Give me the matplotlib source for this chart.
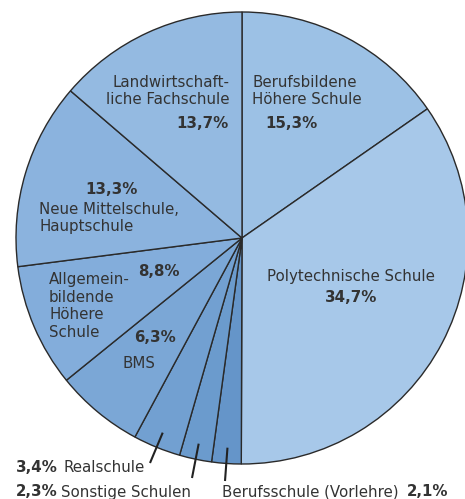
import matplotlib
matplotlib.use("Agg")
import matplotlib.pyplot as plt
import numpy as np

labels = ["Berufsbildene Höhere Schule", "Polytechnische Schule", "Berufsschule (Vorlehre)",
          "Sonstige Schulen", "Realschule", "BMS", "Allgemeinbildende Höhere Schule",
          "Neue Mittelschule, Hauptschule", "Landwirtschaftliche Fachschule"]
values = [15.3, 34.7, 2.1, 2.3, 3.4, 6.3, 8.8, 13.3, 13.7]
pct_text = ["15,3%", "34,7%", "2,1%", "2,3%", "3,4%", "6,3%", "8,8%", "13,3%", "13,7%"]
colors = ["#9cc1e5", "#a7c8e9", "#6595c9", "#6b9bcd", "#72a0d1", "#7ba7d6",
          "#83addb", "#8bb3de", "#94bae1"]

W, H = 465, 499
fig = plt.figure(figsize=(W / 100, H / 100), dpi=100)
ax = fig.add_axes([0, 0, 1, 1])

cx, cy_pix, R = 242, 238, 226
cy = H - cy_pix
ax.pie(values, colors=colors, startangle=90, counterclock=False,
       center=(cx, cy), radius=R, frame=True,
       wedgeprops=dict(edgecolor="#2a2a2a", linewidth=1.0))
ax.set_xlim(0, W)
ax.set_ylim(0, H)
ax.set_aspect("equal")
ax.axis("off")

fam = "DejaVu Sans"
fs = 10.8
tc = "#333333"


def T(x, y, s, ha="left", bold=False, va="center"):
    ax.text(x, H - y, s, ha=ha, va=va, fontsize=fs, color=tc, family=fam,
            fontweight="bold" if bold else "normal", linespacing=1.2)


# Landwirtschaftliche Fachschule
T(229, 91, "Landwirtschaft-\nliche Fachschule", ha="right")
T(229, 123, pct_text[8], ha="right", bold=True)
# Berufsbildende
T(252, 91, "Berufsbildene\nHöhere Schule")
T(265, 123, pct_text[0], bold=True)
# Neue Mittelschule
T(111, 189, pct_text[7], ha="center", bold=True)
T(39, 218, "Neue Mittelschule,\nHauptschule")
# Allgemeinbildende
T(49, 306, "Allgemein-\nbildende\nHöhere\nSchule")
T(159, 272, pct_text[6], ha="center", bold=True)
# BMS
T(155, 338, pct_text[5], ha="center", bold=True)
T(139, 363, "BMS", ha="center")
# Polytechnische
T(351, 277, "Polytechnische Schule", ha="center")
T(351, 298, pct_text[1], ha="center", bold=True)

# leader lines for small slices
cum = np.cumsum([0] + values[:-1])
total = sum(values)
ends = {2: (225, 481), 3: (192, 478), 4: (150, 463)}
for i, (ex, ey) in ends.items():
    mid = (cum[i] + values[i] / 2) / total * 2 * np.pi
    r = 0.93 * R
    px = cx + r * np.sin(mid)
    py = cy + r * np.cos(mid)
    ax.plot([px, ex], [py, H - ey], color="#222222", lw=1.5, solid_capstyle="butt")

# bottom labels
T(16, 467, pct_text[4], bold=True)
T(63, 467, "Realschule")
T(16, 492, pct_text[3], bold=True)
T(61, 492, "Sonstige Schulen")
T(222, 492, "Berufsschule (Vorlehre)")
T(407, 492, pct_text[2], bold=True)

fig.savefig("out.png", dpi=100)
